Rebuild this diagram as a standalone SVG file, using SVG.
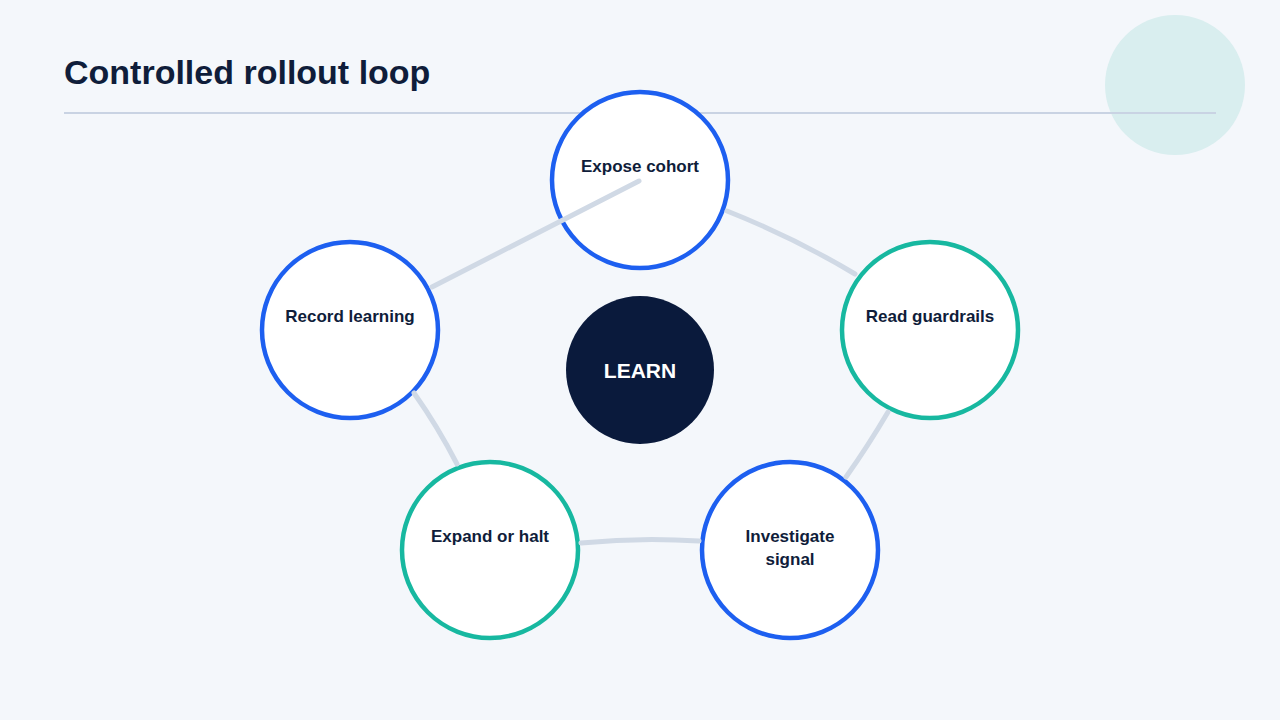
<svg xmlns="http://www.w3.org/2000/svg" width="1280" height="720" viewBox="0 0 1280 720">
<style>
.n{fill:#fff;stroke-width:4.5}
.b{stroke:#1d5ff0}.t{stroke:#17b8a0}
.l{font-family:"Liberation Sans",Arial,sans-serif;font-weight:bold;font-size:17px;fill:#0f1d3a;text-anchor:middle}
.c{fill:none;stroke:#d0d9e5;stroke-width:5;stroke-linecap:round}
</style>
<rect width="1280" height="720" fill="#f4f7fb"/>
<circle cx="1175" cy="85" r="70" fill="#d9eeef"/>
<text x="64" y="84" font-family="Liberation Sans,Arial,sans-serif" font-weight="bold" font-size="34" fill="#0f1d3a">Controlled rollout loop</text>
<line x1="64" y1="113" x2="1216" y2="113" stroke="#c9d3e3" stroke-width="2"/>
<g id="n1"><circle class="n b" cx="640" cy="180" r="88"/><text class="l" x="640" y="172">Expose cohort</text></g>
<g id="n2"><circle class="n t" cx="930" cy="330" r="88"/><text class="l" x="930" y="322">Read guardrails</text></g>
<g id="n3"><circle class="n b" cx="790" cy="550" r="88"/><text class="l" x="790" y="542">Investigate</text><text class="l" x="790" y="565">signal</text></g>
<g id="n4"><circle class="n t" cx="490" cy="550" r="88"/><text class="l" x="490" y="542">Expand or halt</text></g>
<g id="n5"><circle class="n b" cx="350" cy="330" r="88"/><text class="l" x="350" y="322">Record learning</text></g>
<g id="center"><circle cx="640" cy="370" r="74" fill="#0a1a3c"/><text x="640" y="378" font-family="Liberation Sans,Arial,sans-serif" font-weight="bold" font-size="21" fill="#fff" text-anchor="middle">LEARN</text></g>
<g id="connectors">
<path class="c" d="M727,211 Q795,238 855,274"/>
<path class="c" d="M888,412 Q868,446 846,477"/>
<path class="c" d="M699,541 Q640,537 581,543"/>
<path class="c" d="M457,464 Q438,427 414,393"/>
<path class="c" d="M432,287 L639,181"/>
</g>
</svg>
